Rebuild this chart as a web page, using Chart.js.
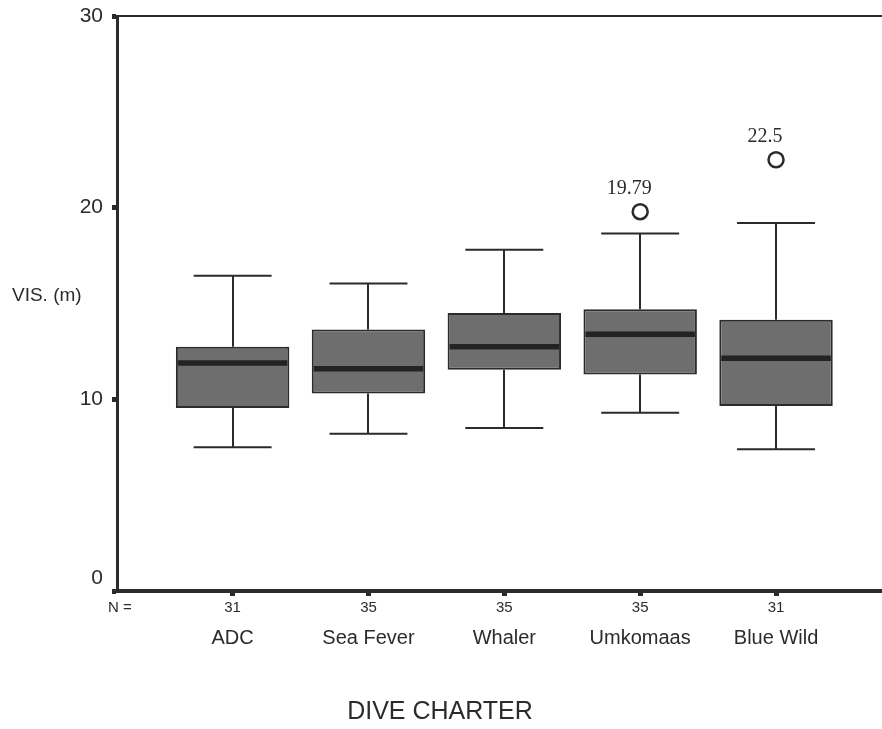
<!DOCTYPE html>
<html>
<head>
<meta charset="utf-8">
<script src="https://cdn.jsdelivr.net/npm/chart.js@4/dist/chart.umd.min.js"></script>
<style>
  html, body { margin: 0; padding: 0; background: #fff; overflow: hidden; }
  canvas { display: block; }
</style>
</head>
<body>
<canvas id="vis-chart" width="882" height="729"></canvas>
<script>
// values
const categories = [`ADC`, `Sea Fever`, `Whaler`, `Umkomaas`, `Blue Wild`]
const n_counts = [31, 35, 35, 35, 31]
const whisker_low = [7.5, 8.2, 8.5, 9.3, 7.4]
const q1 = [9.55, 10.3, 11.55, 11.3, 9.65]
const medians = [11.9, 11.6, 12.75, 13.4, 12.15]
const q3 = [12.75, 13.65, 14.5, 14.7, 14.15]
const whisker_high = [16.45, 16.05, 17.8, 18.65, 19.2]
const outlier_cats = [`Umkomaas`, `Blue Wild`]
const outlier_values = [19.79, 22.5]
const y_ticks = [0, 10, 20, 30]

const ink = `#2b2b2b`
const sans = `'Liberation Sans', Arial, sans-serif`
const serif = `'Liberation Serif', 'Times New Roman', serif`
const cap_half = 0.287

const boxplot_extras = {
    id: `boxplotExtras`,
    beforeDatasetsDraw(chart) {
        const { ctx, scales: { x, y } } = chart
        ctx.save()
        ctx.strokeStyle = ink
        ctx.lineWidth = 2
        categories.forEach((cat, i) => {
            const cx = Math.round(x.getPixelForValue(i + 1))
            const xl = x.getPixelForValue(i + 1 - cap_half)
            const xr = x.getPixelForValue(i + 1 + cap_half)
            const lo = y.getPixelForValue(whisker_low[i])
            const hi = y.getPixelForValue(whisker_high[i])
            ctx.beginPath()
            ctx.moveTo(cx, y.getPixelForValue(q1[i]))
            ctx.lineTo(cx, lo)
            ctx.moveTo(cx, y.getPixelForValue(q3[i]))
            ctx.lineTo(cx, hi)
            ctx.moveTo(xl, lo)
            ctx.lineTo(xr, lo)
            ctx.moveTo(xl, hi)
            ctx.lineTo(xr, hi)
            ctx.stroke()
        })
        ctx.restore()
    },
    afterDatasetsDraw(chart) {
        const { ctx, chartArea, scales: { x, y } } = chart
        ctx.save()
        // medians
        const meta = chart.getDatasetMeta(0)
        ctx.strokeStyle = `#232323`
        ctx.lineWidth = 5.5
        meta.data.forEach((bar, i) => {
            const half = bar.width / 2 - 2
            const my = y.getPixelForValue(medians[i])
            ctx.beginPath()
            ctx.moveTo(bar.x - half, my)
            ctx.lineTo(bar.x + half, my)
            ctx.stroke()
        })
        // top frame line
        ctx.strokeStyle = ink
        ctx.lineWidth = 2
        ctx.beginPath()
        ctx.moveTo(chartArea.left, chartArea.top)
        ctx.lineTo(chart.width, chartArea.top)
        ctx.stroke()
        // outlier labels
        ctx.fillStyle = ink
        ctx.font = `20px ${serif}`
        ctx.textAlign = `center`
        ctx.textBaseline = `middle`
        outlier_values.forEach((v, i) => {
            const xi = categories.indexOf(outlier_cats[i]) + 1
            ctx.fillText(String(v), x.getPixelForValue(xi) - 11, y.getPixelForValue(v) - 23)
        })
        // N row
        ctx.font = `15px ${sans}`
        ctx.fillText(`N =`, 120, 608)
        n_counts.forEach((n, i) => {
            ctx.fillText(String(n), x.getPixelForValue(i + 1), 608)
        })
        // axis titles
        ctx.font = `19px ${sans}`
        ctx.textAlign = `left`
        ctx.fillText(`VIS. (m)`, 12, 296)
        ctx.font = `25px ${sans}`
        ctx.textAlign = `center`
        ctx.fillText(`DIVE CHARTER`, 440, 712)
        ctx.restore()
    }
}

const chart_ctx = document.getElementById(`vis-chart`).getContext(`2d`)
const chart = new Chart(chart_ctx, {
    type: `bar`,
    data: {
        datasets: [{
            label: `box`,
            data: categories.map((c, i) => ({ x: i + 1, y: [q1[i], q3[i]] })),
            backgroundColor: `#6e6e6e`,
            borderColor: ink,
            borderWidth: 2,
            borderSkipped: false,
            barPercentage: 0.835,
            categoryPercentage: 1
        }, {
            type: `line`,
            label: `outliers`,
            data: outlier_values.map((v, i) => ({ x: categories.indexOf(outlier_cats[i]) + 1, y: v })),
            showLine: false,
            pointStyle: `circle`,
            pointRadius: 7.5,
            pointBorderWidth: 2.5,
            pointBorderColor: ink,
            pointBackgroundColor: `#fff`
        }]
    },
    options: {
        responsive: false,
        animation: false,
        layout: { autoPadding: false, padding: { top: 16, left: 0, right: 0, bottom: 0 } },
        plugins: {
            legend: { display: false },
            tooltip: { enabled: false }
        },
        scales: {
            x: {
                type: `linear`,
                min: 0.149,
                max: 5.78,
                offset: false,
                afterBuildTicks: (scale) => {
                    scale.ticks = categories.map((c, i) => ({ value: i + 1 }))
                },
                afterFit: (scale) => {
                    scale.height = 138
                    scale.paddingLeft = 0
                    scale.paddingRight = 0
                },
                ticks: {
                    callback: (v) => categories[v - 1],
                    color: ink,
                    font: { family: sans, size: 20 },
                    padding: 30,
                    maxRotation: 0
                },
                grid: {
                    offset: false,
                    drawOnChartArea: false,
                    drawTicks: true,
                    tickLength: 5,
                    tickWidth: 5,
                    tickColor: ink
                },
                border: { display: true, color: ink, width: 4 }
            },
            y: {
                min: 0,
                max: 30,
                afterBuildTicks: (scale) => {
                    scale.ticks = y_ticks.map(v => ({ value: v }))
                },
                afterFit: (scale) => {
                    scale.width = 117
                    scale.paddingTop = 0
                    scale.paddingBottom = 0
                },
                ticks: {
                    callback: (v) => v === 0 ? [`0`, ``] : String(v),
                    color: ink,
                    font: { family: sans, size: 21 },
                    padding: 9
                },
                grid: {
                    drawOnChartArea: false,
                    drawTicks: true,
                    tickLength: 5,
                    tickWidth: 5,
                    tickColor: ink
                },
                border: { display: true, color: ink, width: 3 }
            }
        }
    },
    plugins: [boxplot_extras]
})
</script>
</body>
</html>
